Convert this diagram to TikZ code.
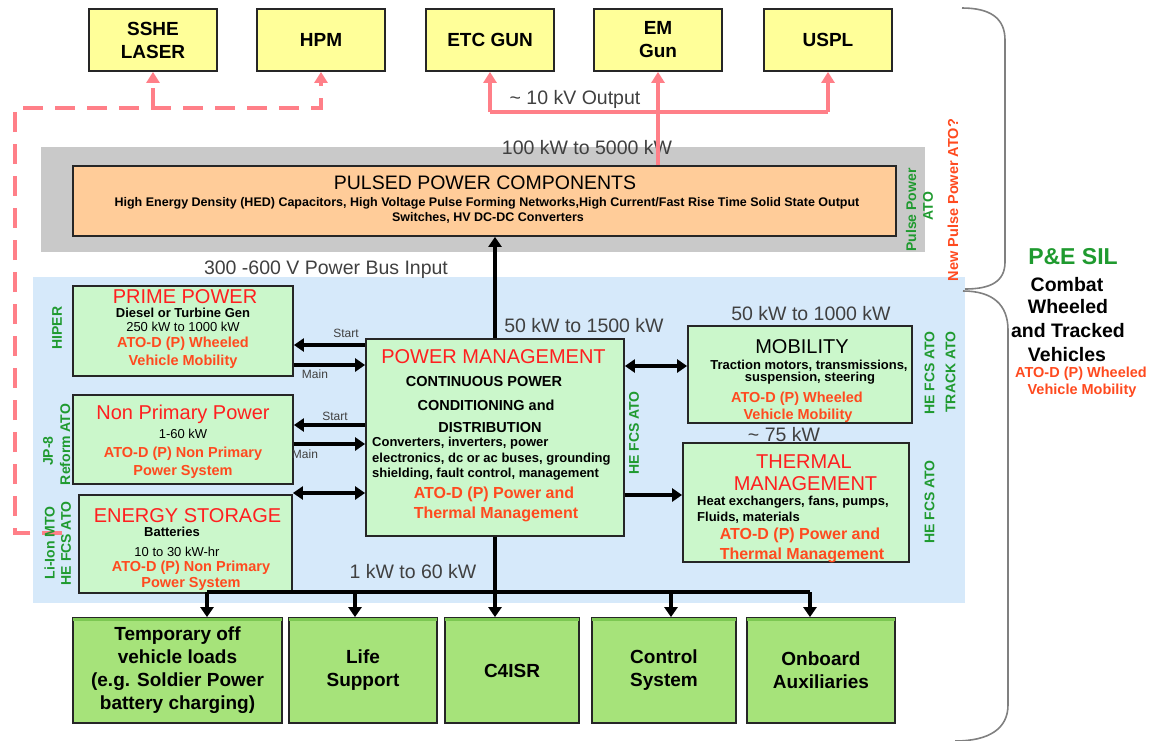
\documentclass[tikz,border=0pt]{standalone}
\usepackage{fontspec}
\setmainfont{Liberation Sans}
\usetikzlibrary{arrows.meta}
\newcommand\myfs[2]{\fontsize{#1}{#2}\selectfont}
\definecolor{yel}{HTML}{FFFF99}
\definecolor{orng}{HTML}{FFCC99}
\definecolor{lgreen}{HTML}{CBF7CB}
\definecolor{bgreen}{HTML}{A6E37A}
\definecolor{bband}{HTML}{7CC852}
\definecolor{gryc}{HTML}{C9C9C9}
\definecolor{bluec}{HTML}{D6E9FA}
\definecolor{hred}{HTML}{FF1F1F}
\definecolor{atored}{HTML}{FF4A1F}
\definecolor{grn}{HTML}{1F9A2F}
\definecolor{dgray}{HTML}{404040}
\definecolor{pinkc}{HTML}{FF7F88}
\definecolor{braceg}{HTML}{808080}
\begin{document}
\begin{tikzpicture}[x=1pt,y=-1pt,
  bx/.style={draw=black!85, line width=1.8pt, inner sep=0pt},
  ybox/.style={bx, fill=yel, minimum width=128pt, minimum height=62pt, font=\myfs{19}{23}\bfseries, align=center},
  gbox/.style={bx, fill=lgreen},
  bbox/.style={bx, fill=bgreen, minimum height=105pt, font=\myfs{19}{23}\bfseries, align=center},
  txt/.style={inner sep=0pt},
  glab/.style={txt, font=\myfs{19.5}{20}, text=dgray},
  head/.style={txt, font=\myfs{20}{22}, text=hred},
  ato/.style={txt, font=\myfs{14.5}{16}\bfseries, text=atored},
  atob/.style={txt, font=\myfs{16}{18}\bfseries, text=atored},
  small/.style={txt, font=\myfs{13}{14}\bfseries},
  reg/.style={txt, font=\myfs{13}{14}},
  grnl/.style={txt, font=\myfs{14}{15}\bfseries, text=grn, rotate=90},
  tiny/.style={txt, font=\myfs{12}{13}, text=dgray},
  pinkline/.style={draw=pinkc, line width=4pt},
  pinkdash/.style={draw=pinkc, line width=4pt, dash pattern=on 20pt off 12pt},
  ptip/.style={-{Triangle[length=11pt,width=13pt]}},
  arr/.style={-{Triangle[length=10pt,width=13pt]}, line width=3.5pt},
  darr/.style={{Triangle[length=10pt,width=13pt]}-{Triangle[length=10pt,width=13pt]}, line width=3.5pt},
  bline/.style={line width=3.5pt},
  band/.style={draw=bband, line width=3pt},
  ]
\useasboundingbox (0,0) rectangle (1149,740);

% ---------- backgrounds ----------
\node[fill=bluec, inner sep=0pt, minimum width=932pt, minimum height=326pt] (bluebg) at (499,440) {};
\node[fill=gryc, inner sep=0pt, minimum width=884pt, minimum height=105pt] (graybg) at (483,199.5) {};

% ---------- top boxes ----------
\node[ybox] (sshe) at (153,40) {SSHE\\LASER};
\node[ybox] (hpm) at (321,40) {HPM};
\node[ybox] (etc) at (490,40) {ETC GUN};
\node[ybox] (emg) at (658,40) {EM\\Gun};
\node[ybox] (uspl) at (828,40) {USPL};

% ---------- pulsed power ----------
\node[bx, fill=orng, minimum width=823pt, minimum height=70pt] (ppc) at (484.5,201) {};
\node[txt, font=\myfs{19.5}{20}] (ppct) at (485,183) {PULSED POWER COMPONENTS};
\node[txt, font=\myfs{12.5}{14}\bfseries] (ppc2) at (487,203) {High Energy Density (HED) Capacitors, High Voltage Pulse Forming Networks,High Current/Fast Rise Time Solid State Output};
\node[txt, font=\myfs{12.5}{14}\bfseries] (ppc3) at (488,218) {Switches, HV DC-DC Converters};
\node[grnl] (ppato1) at (911,210) {Pulse Power};
\node[grnl] (ppato2) at (928,206) {ATO};
\node[txt, rotate=90, font=\myfs{14.5}{16}\bfseries, text=atored] (newp) at (953,200) {New Pulse Power ATO?};
\node[glab] (l100) at (587,148) {100 kW to 5000 kW};

% ---------- pink connectors ----------
\coordinate (kv) at (0,112);
\node[glab] (l10) at (575,99) {\textasciitilde{} 10 kV Output};
\draw[pinkline] (etc.south |- kv) -- (uspl.south |- kv);
\draw[pinkline, ptip] (etc.south |- kv) -- (etc.south);
\draw[pinkline, ptip] (uspl.south |- kv) -- (uspl.south);
\draw[pinkline, ptip] (ppc.north -| emg.south) -- (emg.south);

\coordinate (dA) at (62,533);
\coordinate (dB) at (15,533);
\coordinate (dC) at (15,108);
\draw[pinkdash, ptip] (dA) -- (dB) -- (dC) -| (hpm.south);
\draw[pinkdash, ptip] (sshe.south |- dC) -- (sshe.south);

\node[glab] (l300) at (326,270) {300 -600 V Power Bus Input};

% ---------- left boxes ----------
\node[gbox, minimum width=220pt, minimum height=90pt] (prime) at (183,331) {};
\node[head] (primeh) at (185,297) {PRIME POWER};
\node[small] (prime1) at (183,313) {Diesel or Turbine Gen};
\node[reg] (prime2) at (183,327) {250 kW to 1000 kW};
\node[ato] (prime3) at (183,344) {ATO-D (P) Wheeled};
\node[ato] (prime4) at (183,362) {Vehicle Mobility};

\node[gbox, minimum width=220pt, minimum height=89pt] (nonp) at (183,439.5) {};
\node[head] (nonph) at (183,414) {Non Primary Power};
\node[reg] (nonp1) at (183,434) {1-60 kW};
\node[ato] (nonp2) at (183,454) {ATO-D (P) Non Primary};
\node[ato] (nonp3) at (183,472) {Power System};

\node[gbox, minimum width=213pt, minimum height=98pt] (es) at (185.5,544) {};
\node[head] (esh) at (187.5,515.5) {ENERGY STORAGE};
\node[small] (es1) at (172,532) {Batteries};
\node[reg] (es2) at (177,552) {10 to 30 kW-hr};
\node[ato] (es3) at (191,568) {ATO-D (P) Non Primary};
\node[ato] (es4) at (191,584) {Power System};

\node[grnl] (hiper) at (57,328) {HIPER};
\node[grnl] (jp8) at (48,451) {JP-8};
\node[grnl] (reform) at (65,444.5) {Reform ATO};
\node[grnl] (liion) at (49.5,543) {Li-Ion MTO};
\node[grnl] (hefcs1) at (66,543.5) {HE FCS ATO};

% ---------- power management ----------
\node[gbox, minimum width=258pt, minimum height=197pt] (pm) at (495,437.5) {};
\node[head] (pmh) at (493.5,357) {POWER MANAGEMENT};
\node[txt, font=\myfs{14.5}{16}\bfseries] (pm1) at (484,381) {CONTINUOUS POWER};
\node[txt, font=\myfs{14.5}{16}\bfseries] (pm2) at (486,405) {CONDITIONING and};
\node[txt, font=\myfs{14.5}{16}\bfseries] (pm3) at (490,427) {DISTRIBUTION};
\node[small, anchor=west] (pm4) at (372,443) {Converters, inverters, power};
\node[small, anchor=west] (pm5) at (372,459) {electronics, dc or ac buses, grounding};
\node[small, anchor=west] (pm6) at (372,474) {shielding, fault control, management};
\node[atob] (pm7) at (494,494) {ATO-D (P) Power and};
\node[atob] (pm8) at (496,514) {Thermal Management};
\node[grnl] (hefcs2) at (634,433) {HE FCS ATO};
\node[glab] (l50) at (584,326) {50 kW to 1500 kW};
\node[glab] (l1) at (413,572) {1 kW to 60 kW};

% ---------- right boxes ----------
\node[gbox, minimum width=224pt, minimum height=97pt] (mob) at (800,374.5) {};
\node[txt, font=\myfs{20}{22}] (mobh) at (802,347) {MOBILITY};
\node[small] (mob1) at (809,366) {Traction motors, transmissions,};
\node[small] (mob2) at (810,378) {suspension, steering};
\node[ato] (mob3) at (797,399) {ATO-D (P) Wheeled};
\node[ato] (mob4) at (798,416) {Vehicle Mobility};
\node[glab] (l501) at (811,314) {50 kW to 1000 kW};
\node[glab] (l75) at (784,435) {\textasciitilde{} 75 kW};

\node[gbox, minimum width=226pt, minimum height=119pt] (therm) at (796,502.5) {};
\node[head] (thermh1) at (804,462) {THERMAL};
\node[head] (thermh2) at (805.5,484) {MANAGEMENT};
\node[small, anchor=west] (therm1) at (697,502) {Heat exchangers, fans, pumps,};
\node[small, anchor=west] (therm2) at (697,518) {Fluids, materials};
\node[atob] (therm3) at (800,535) {ATO-D (P) Power and};
\node[atob] (therm4) at (802,555) {Thermal Management};

\node[grnl] (hefcs3) at (929.5,373) {HE FCS ATO};
\node[grnl] (track) at (950.5,372) {TRACK ATO};
\node[grnl] (hefcs4) at (929.5,502) {HE FCS ATO};

% ---------- bottom boxes ----------
\node[bbox, minimum width=209pt] (temp) at (177.5,670.5) {Temporary off\\vehicle loads\\(e.g. Soldier Power\\battery charging)};
\node[bbox, minimum width=148pt] (life) at (363,670.5) {Life\\Support};
\node[bbox, minimum width=134pt] (c4) at (512,670.5) {C4ISR};
\node[bbox, minimum width=144pt] (ctrl) at (664,670.5) {Control\\System};
\node[bbox, minimum width=148pt] (onb) at (821,670.5) {Onboard\\Auxiliaries};
\foreach \b in {temp,life,c4,ctrl,onb}{
  \draw[band] ([xshift=1pt,yshift=-2.5pt]\b.north west) -- ([xshift=-1pt,yshift=-2.5pt]\b.north east);
}

% ---------- black connectors ----------
\draw[arr] (pm.north) -- (pm.north |- ppc.south);

\coordinate (y1) at (0,345);
\coordinate (y2) at (0,365);
\coordinate (y3) at (0,425);
\coordinate (y4) at (0,444);
\coordinate (y5) at (0,493);
\draw[arr] (pm.west |- y1) -- (prime.east |- y1);
\draw[arr] (prime.east |- y2) -- (pm.west |- y2);
\draw[arr] (pm.west |- y3) -- (nonp.east |- y3);
\draw[arr] (nonp.east |- y4) -- (pm.west |- y4);
\draw[darr] (es.east |- y5) -- (pm.west |- y5);
\node[tiny] (st1) at (346,333) {Start};
\node[tiny] (mn1) at (315,374) {Main};
\node[tiny] (st2) at (335,416) {Start};
\node[tiny] (mn2) at (305,454) {Main};

\coordinate (y6) at (0,366);
\coordinate (y7) at (0,495);
\draw[darr] (pm.east |- y6) -- (mob.west |- y6);
\draw[arr] (pm.east |- y7) -- (therm.west |- y7);

\coordinate (d1) at (207,592);
\coordinate (d2) at (355,592);
\coordinate (d4) at (671,592);
\coordinate (d5) at (810,592);
\draw[bline] (d1) -- (d5);
\draw[arr] (d1) -- (temp.north -| d1);
\draw[arr] (d2) -- (life.north -| d2);
\draw[arr] (d4) -- (ctrl.north -| d4);
\draw[arr] (d5) -- (onb.north -| d5);
\draw[arr] (pm.south) -- (c4.north -| pm.south);

% ---------- right brace and texts ----------
\draw[braceg, line width=1.6pt] (962,8) .. controls (990,8) and (1005,18) .. (1005,40) -- (1005,262) .. controls (1005,282) and (990,289) .. (965,289);
\draw[braceg, line width=1.6pt] (963,291) .. controls (993,291) and (1008,305) .. (1008,330) -- (1008,705) .. controls (1008,728) and (990,741) .. (955,741);

\node[txt, font=\myfs{23}{25}\bfseries, text=grn] (pesil) at (1073,257) {P\&E SIL};
\node[txt, font=\myfs{19.5}{22}\bfseries] (cw1) at (1067,284.5) {Combat};
\node[txt, font=\myfs{19.5}{22}\bfseries] (cw2) at (1068,307) {Wheeled};
\node[txt, font=\myfs{19.5}{22}\bfseries] (cw3) at (1068,331) {and Tracked};
\node[txt, font=\myfs{19.5}{22}\bfseries] (cw4) at (1067,355) {Vehicles};
\node[ato] (cw5) at (1081,374) {ATO-D (P) Wheeled};
\node[ato] (cw6) at (1082,391) {Vehicle Mobility};
\end{tikzpicture}
\end{document}
